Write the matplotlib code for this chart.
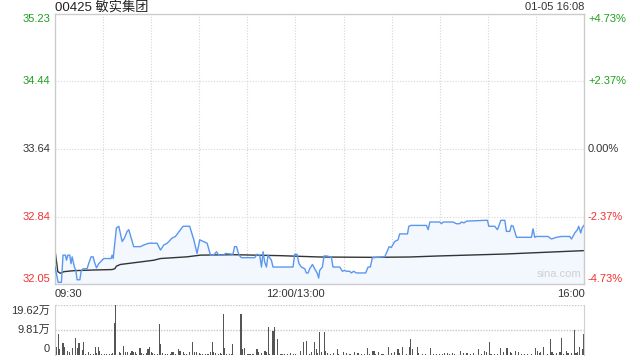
import matplotlib
matplotlib.use("Agg")
import matplotlib.pyplot as plt

plt.rcParams['font.family'] = ['Liberation Sans', 'Noto Sans CJK SC', 'DejaVu Sans']

# price line vertices: minute since 09:30 (lunch removed) and price
price_t = [0, 2, 4, 5, 6.5, 7.2, 8, 9.2, 10, 10.7, 12.1, 13, 13.8, 15.5, 16.3, 17.5, 20, 21,
           22.5, 23.8, 24.6, 25.9, 27.3, 30.4, 35, 35.6, 36.3, 38.3, 39.8, 41.9, 43.3, 45, 46,
           49.1, 53.3, 55.4, 58.5, 63.7, 65.8, 67.9, 70, 73, 75.1, 79.9, 84, 86.6, 88.6, 90.3,
           94.9, 97, 99, 100.7, 102.2, 105.3, 106.3, 111, 112, 113.2, 114.8, 116.3, 124.6, 126,
           127.7, 128.8, 129.8, 130.8, 131.9, 132.9, 135, 136, 148.5, 149.5, 151, 152.2, 153.7,
           155.8, 156.8, 157.9, 158.9, 160.6, 162, 163.5, 164.5, 165.1, 166.8, 167.8, 169.7,
           171.4, 172.4, 173.4, 177.6, 179.3, 180.7, 181.8, 183.8, 184.9, 186.3, 188, 193.8,
           195.3, 196.7, 198, 205.7, 207.1, 208.4, 209.8, 211.9, 214, 215, 218.1, 219.9, 220.7,
           222, 231.7, 232.8, 233.8, 240, 241.1, 242.1, 248.3, 250.4, 252.5, 253.5, 255.2, 256.7,
           268.1, 269.8, 270.6, 274.3, 276, 276.8, 278.1, 280.6, 281.6, 283.7, 284.7, 285.8,
           287.9, 297.2, 298.2, 299.3, 300.3, 307.6, 309.7, 312.8, 315.9, 321.1, 322.2, 324.2,
           325.9, 326.7, 328, 328.8, 330]
price_v = [32.25, 32.07, 32.07, 32.39, 32.39, 32.33, 32.39, 32.39, 32.29, 32.37, 32.25, 32.21,
           32.10, 32.10, 32.20, 32.23, 32.23, 32.29, 32.37, 32.37, 32.31, 32.24, 32.29, 32.35,
           32.35, 32.39, 32.35, 32.71, 32.73, 32.55, 32.59, 32.67, 32.69, 32.49, 32.49, 32.51,
           32.53, 32.53, 32.45, 32.51, 32.53, 32.59, 32.61, 32.73, 32.73, 32.57, 32.41, 32.57,
           32.53, 32.39, 32.39, 32.43, 32.39, 32.39, 32.41, 32.40, 32.49, 32.49, 32.39, 32.36,
           32.36, 32.40, 32.39, 32.25, 32.43, 32.31, 32.25, 32.39, 32.33, 32.25, 32.25, 32.40,
           32.40, 32.29, 32.25, 32.23, 32.18, 32.18, 32.23, 32.28, 32.23, 32.18, 32.12, 32.21,
           32.25, 32.38, 32.38, 32.37, 32.37, 32.25, 32.25, 32.20, 32.21, 32.20, 32.20, 32.18,
           32.20, 32.18, 32.18, 32.25, 32.25, 32.36, 32.37, 32.43, 32.49, 32.48, 32.55, 32.57,
           32.64, 32.64, 32.64, 32.73, 32.74, 32.74, 32.69, 32.78, 32.78, 32.76, 32.78, 32.78,
           32.76, 32.76, 32.78, 32.77, 32.79, 32.80, 32.80, 32.73, 32.73, 32.69, 32.73, 32.80,
           32.80, 32.67, 32.67, 32.74, 32.73, 32.60, 32.60, 32.70, 32.60, 32.61, 32.61, 32.58,
           32.60, 32.61, 32.61, 32.58, 32.65, 32.69, 32.73, 32.65, 32.71, 32.74]

# average price line
avg_t = [0, 1.75, 3.4, 5.5, 11.7, 24.2, 35.6, 37.3, 38.3, 40.8, 51.2, 61.6, 65.8, 82.4, 90.7,
         111.5, 140.2, 165.1, 198.4, 221.3, 239, 280.6, 330]
avg_v = [32.45, 32.195, 32.176, 32.195, 32.207, 32.215, 32.22, 32.23, 32.26, 32.28, 32.305,
         32.33, 32.35, 32.37, 32.39, 32.395, 32.384, 32.368, 32.364, 32.368, 32.38, 32.403,
         32.443]

# volume (万股) per minute, visible bars
vol_min = [0, 1, 2, 3, 5, 6, 8, 9, 11, 13, 14, 15, 17, 18, 19, 21, 22, 24, 25, 26, 27, 28, 29,
           31, 32, 34, 35, 36, 37, 38, 40, 41, 43, 44, 45, 47, 48, 49, 50, 51, 53, 54, 55, 57,
           58, 59, 60, 61, 62, 64, 65, 66, 67, 69, 70, 72, 73, 74, 75, 77, 78, 80, 81, 82, 84,
           86, 87, 88, 90, 91, 92, 94, 95, 96, 97, 98, 99, 100, 102, 103, 104, 105, 106, 107,
           109, 110, 111, 116, 117, 118, 120, 121, 122, 123, 124, 126, 127, 129, 131, 132, 133,
           134, 136, 137, 139, 141, 142, 143, 145, 147, 149, 150, 153, 155, 157, 159, 160, 162,
           163, 164, 165, 166, 168, 169, 170, 172, 174, 176, 177, 180, 182, 184, 187, 189, 191,
           193, 195, 196, 198, 199, 200, 202, 204, 205, 208, 210, 212, 214, 215, 217, 219, 221,
           222, 223, 226, 227, 229, 231, 234, 236, 238, 240, 242, 243, 245, 246, 248, 249, 253,
           255, 257, 259, 261, 264, 266, 268, 269, 271, 272, 274, 276, 278, 280, 282, 284, 285,
           287, 289, 291, 293, 295, 297, 300, 301, 302, 303, 305, 307, 309, 310, 311, 313, 315,
           316, 317, 319, 320, 322, 324, 325, 326, 327, 329, 330]
vol_wan = [5.5, 3.0, 8.1, 2.4, 4.6, 3.0, 1.7, 1.3, 2.6, 6.5, 2.6, 4.6, 2.0, 5.0, 0.3, 1.0, 0.4,
           0.4, 3.3, 0.6, 3.3, 1.6, 0.3, 0.3, 0.3, 0.3, 0.3, 0.6, 12.4, 19.6, 1.3, 0.6, 3.7, 1.0,
           1.0, 0.6, 1.7, 1.0, 1.3, 0.3, 2.9, 0.6, 0.3, 0.6, 2.2, 3.3, 1.3, 0.6, 0.3, 0.3, 12.0,
           4.2, 0.6, 0.3, 0.3, 0.3, 1.0, 1.0, 0.3, 2.2, 1.7, 1.3, 0.3, 0.3, 1.3, 5.0, 1.0, 1.0,
           0.6, 0.3, 0.3, 0.3, 0.3, 0.3, 1.0, 5.0, 1.0, 0.6, 0.3, 0.6, 0.3, 16.0, 2.6, 0.3, 0.3,
           0.3, 4.2, 16.0, 2.2, 2.6, 0.3, 0.3, 0.3, 0.3, 0.3, 2.2, 1.0, 0.6, 1.7, 1.0, 11.1, 0.3,
           9.4, 11.1, 6.1, 0.3, 0.3, 0.3, 0.3, 0.6, 0.3, 0.3, 1.7, 5.0, 5.5, 0.3, 1.3, 5.0, 2.2,
           0.6, 8.9, 1.3, 9.2, 1.7, 0.6, 0.3, 0.6, 2.2, 0.3, 1.3, 0.6, 0.3, 1.3, 0.6, 0.3, 0.3,
           2.9, 0.3, 1.7, 1.7, 0.3, 1.0, 0.3, 0.3, 3.3, 0.6, 1.0, 2.2, 0.6, 3.0, 0.3, 3.0, 6.1,
           2.4, 3.3, 0.6, 0.3, 0.3, 2.9, 0.3, 0.3, 0.3, 0.3, 0.6, 0.6, 0.3, 0.6, 0.3, 1.7, 0.6,
           0.6, 0.3, 0.6, 2.2, 0.3, 1.7, 1.0, 5.0, 0.3, 0.3, 0.3, 2.6, 1.0, 2.9, 1.0, 0.6, 1.6,
           1.0, 0.3, 0.3, 0.3, 0.3, 2.9, 1.7, 0.6, 1.3, 3.3, 0.3, 6.1, 1.3, 0.3, 0.6, 1.3, 6.5,
           0.3, 1.7, 0.6, 0.6, 9.8, 0.6, 1.3, 3.3, 2.2, 8.1]

price_ticks = [32.05, 32.84, 33.64, 34.44, 35.23]
pct_labels = ['-4.73%', '-2.37%', '0.00%', '+2.37%', '+4.73%']
tick_colors = ['#f23030', '#f23030', '#333333', '#1e9e1e', '#1e9e1e']
time_labels = ['09:30', '12:00/13:00', '16:00']
vol_ticks = [0, 9.81, 19.62]
vol_labels = ['0', '9.81万', '19.62万']

W, H = 640, 360
fig = plt.figure(figsize=(6.4, 3.6), dpi=100)
ax = fig.add_axes([55 / W, 1 - 284 / H, 529 / W, 270 / H])
axv = fig.add_axes([55 / W, 1 - 355 / H, 529 / W, 50 / H])

grid_kw = dict(color='#d6d6d6', lw=0.8, ls=(0, (1, 1.5)), zorder=0)

# price panel
ax.set_xlim(0, 330)
ax.set_ylim(price_ticks[0], price_ticks[-1])
for m in range(30, 330, 30):
    ax.axvline(m, **grid_kw)
for p in price_ticks[1:-1]:
    ax.axhline(p, **grid_kw)
ax.fill_between(price_t, price_v, [32.05] * len(price_t), color='#f3f7fe', lw=0, zorder=1)
ax.plot(price_t, price_v, color='#5b97ee', lw=1.0, zorder=3)
ax.plot(avg_t, avg_v, color='#333333', lw=1.0, zorder=2)
ax.set_xticks([])
ax.set_yticks([])
for s in ax.spines.values():
    s.set_color('#cccccc')
    s.set_linewidth(1)

# left / right price labels
offsets = [5, 0, 0, 0, -5]
for p, lab, c, off in zip(price_ticks, pct_labels, tick_colors, offsets):
    ax.annotate(f'{p:.2f}', xy=(0, p), xytext=(-5, off), textcoords='offset pixels',
                ha='right', va='center', fontsize=8, color=c, annotation_clip=False)
    ax.annotate(lab, xy=(330, p), xytext=(4, off), textcoords='offset pixels',
                ha='left', va='center', fontsize=8, color=c, annotation_clip=False)

ax.text(0.995, 0.02, 'sina.com', transform=ax.transAxes, ha='right', va='bottom',
        fontsize=8, color='#d0d0d0')

# time labels
fig.text(55 / W, 1 - 294 / H, time_labels[0], ha='left', va='center', fontsize=8, color='#333333')
fig.text((55 + 529 * 150 / 330) / W, 1 - 294 / H, time_labels[1], ha='center', va='center',
         fontsize=8, color='#333333')
fig.text(585 / W, 1 - 294 / H, time_labels[2], ha='right', va='center', fontsize=8, color='#333333')

# header
fig.text(55 / W, 1 - 7 / H, '00425 敏实集团', ha='left', va='center', fontsize=9.5,
         color='#222222')
fig.text(584 / W, 1 - 7 / H, '01-05 16:08', ha='right', va='center', fontsize=8,
         color='#333333')

# volume panel
axv.set_xlim(0, 330)
axv.set_ylim(0, 19.62)
for v in vol_ticks:
    axv.axhline(v, color='#c8c8c8', lw=1, ls=(0, (1, 1)), zorder=0)
axv.bar(vol_min, vol_wan, width=0.7, color='#555555', zorder=2)
axv.set_xticks([])
axv.set_yticks([])
for k, s in axv.spines.items():
    if k in ('left', 'right'):
        s.set_color('#d0d0d0')
    else:
        s.set_visible(False)
voffs = [6, 0, -6]
for v, lab, off in zip(vol_ticks, vol_labels, voffs):
    axv.annotate(lab, xy=(0, v), xytext=(-5, off), textcoords='offset pixels',
                 ha='right', va='center', fontsize=8, color='#333333', annotation_clip=False)

fig.savefig('out.png', dpi=100)
